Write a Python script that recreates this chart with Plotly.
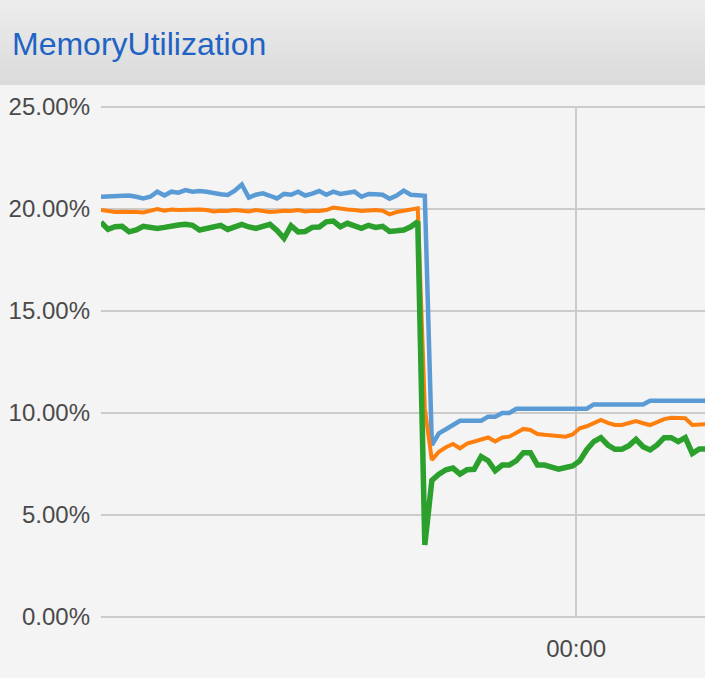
import datetime as dt
import plotly.graph_objects as go

# ---------------- data ----------------
start_time = dt.datetime(2024, 1, 1, 18, 22, 30)
step_minutes = 5

blue_vals = [
    20.60, 20.62, 20.62, 20.65, 20.66, 20.60, 20.52, 20.60, 20.85, 20.66,
    20.85, 20.80, 20.93, 20.85, 20.88, 20.85, 20.77, 20.72, 20.69, 20.90,
    21.20, 20.56, 20.70, 20.77, 20.65, 20.52, 20.74, 20.70, 20.85, 20.66,
    20.75, 20.88, 20.70, 20.85, 20.74, 20.80, 20.85, 20.60, 20.74, 20.72,
    20.70, 20.50, 20.66, 20.90, 20.70, 20.68, 20.65,
    8.43, 9.00, 9.20, 9.40, 9.62, 9.62, 9.62, 9.62, 9.82, 9.82,
    10.00, 10.00,
    10.21, 10.21, 10.21, 10.21, 10.21, 10.21, 10.21, 10.21, 10.21, 10.21, 10.21,
    10.42, 10.42, 10.42, 10.42, 10.42, 10.42, 10.42, 10.42,
    10.60, 10.60, 10.60, 10.60, 10.60, 10.60, 10.60, 10.60, 10.60,
]

orange_vals = [
    19.95, 19.88, 19.85, 19.87, 19.88, 19.85, 19.83, 19.90, 20.00, 19.92,
    19.98, 19.95, 19.97, 19.97, 19.98, 19.95, 19.88, 19.92, 19.90, 19.95,
    19.92, 19.88, 19.95, 19.90, 19.85, 19.88, 19.92, 19.90, 19.95, 19.88,
    19.92, 19.90, 19.95, 20.07, 20.00, 19.98, 19.95, 19.90, 19.93, 19.95,
    19.92, 19.74, 19.85, 19.92, 19.98, 20.03, 10.20,
    7.70, 8.10, 8.32, 8.48, 8.27, 8.50, 8.60, 8.70, 8.80, 8.60,
    8.80, 8.84, 9.05, 9.22, 9.17, 8.97, 8.93, 8.90, 8.86, 8.84,
    8.95, 9.25, 9.35, 9.50, 9.66, 9.52, 9.41, 9.41, 9.50, 9.60,
    9.50, 9.41, 9.55, 9.70, 9.77, 9.75, 9.74, 9.41, 9.45, 9.45,
]

green_vals = [
    19.35, 19.00, 19.13, 19.15, 18.88, 18.97, 19.15, 19.10, 19.05, 19.10,
    19.18, 19.22, 19.25, 19.20, 18.97, 19.05, 19.12, 19.20, 19.00, 19.12,
    19.25, 19.12, 19.05, 19.15, 19.25, 18.95, 18.56, 19.18, 18.88, 18.90,
    19.10, 19.12, 19.37, 19.41, 19.13, 19.30, 19.15, 19.05, 19.20, 19.10,
    19.15, 18.90, 18.93, 18.97, 19.13, 19.37, 3.53,
    6.70, 7.00, 7.22, 7.30, 7.00, 7.22, 7.24, 7.86, 7.66, 7.17,
    7.45, 7.45, 7.66, 8.05, 8.05, 7.45, 7.45, 7.35, 7.25, 7.33,
    7.40, 7.65, 8.20, 8.60, 8.79, 8.43, 8.22, 8.22, 8.40, 8.71,
    8.35, 8.19, 8.43, 8.79, 8.79, 8.60, 8.79, 8.02, 8.24, 8.24,
]

times = [start_time + dt.timedelta(minutes=step_minutes * i) for i in range(len(blue_vals))]

y_tick_vals = [0, 5, 10, 15, 20, 25]
y_tick_text = ["0.00%", "5.00%", "10.00%", "15.00%", "20.00%", "25.00%"]
x_tick_vals = [dt.datetime(2024, 1, 2, 0, 0)]
x_tick_text = ["00:00"]

title_text = "MemoryUtilization"

# ---------------- figure ----------------
W, H = 705, 678
M_L, M_R, M_T, M_B = 101, 0, 106, 60
plot_h = H - M_T - M_B
plot_w = W - M_L - M_R

fig = go.Figure()
series = [
    (blue_vals, "#5b9bd5", 4.5),
    (orange_vals, "#ff7f0e", 4),
    (green_vals, "#2ca02c", 5.5),
]
for vals, color, width in series:
    fig.add_trace(go.Scatter(
        x=times, y=vals, mode="lines",
        line=dict(color=color, width=width),
        showlegend=False,
    ))

# header band (gradient approximated by strips)
header_h = 85
n_strips = 17
top_rgb = (236, 236, 236)
bot_rgb = (219, 219, 219)
shapes = []
for k in range(n_strips):
    f = k / (n_strips - 1)
    c = tuple(round(top_rgb[j] + (bot_rgb[j] - top_rgb[j]) * f) for j in range(3))
    y0px = header_h * k / n_strips
    y1px = header_h * (k + 1) / n_strips
    shapes.append(dict(
        type="rect", xref="paper", yref="paper",
        x0=(0 - M_L) / plot_w - 0.01, x1=(W - M_L) / plot_w + 0.01,
        y0=1 + (M_T - y1px) / plot_h, y1=1 + (M_T - y0px) / plot_h + (0.01 if k == 0 else 0),
        fillcolor="rgb(%d,%d,%d)" % c, line=dict(width=0), layer="above",
    ))

x_start = times[0]
x_end = times[0] + dt.timedelta(minutes=step_minutes * 85.8)

y_pad = 0.05

fig.update_layout(
    width=W, height=H,
    margin=dict(l=M_L, r=M_R, t=M_T, b=M_B, pad=0),
    paper_bgcolor="#f4f4f4",
    plot_bgcolor="#f4f4f4",
    font=dict(family="Liberation Sans, Arial, sans-serif", color="#4a4a4a", size=24),
    shapes=shapes,
    title=dict(
        text=title_text,
        x=12 / W, xanchor="left", xref="container",
        y=1 - 44 / H, yanchor="middle", yref="container",
        font=dict(family="Liberation Sans, Arial, sans-serif", size=32, color="#1f63c4"),
    ),
    xaxis=dict(
        range=[x_start, x_end],
        tickvals=x_tick_vals, ticktext=x_tick_text,
        showgrid=True, gridcolor="#cbcbcb", gridwidth=1.5,
        zeroline=False, showline=False, ticks="",
        tickfont=dict(size=24, color="#4a4a4a"),
        ticklabelstandoff=14,
    ),
    yaxis=dict(
        range=[-y_pad, 25 + y_pad],
        tickvals=y_tick_vals, ticktext=y_tick_text,
        showgrid=True, gridcolor="#cbcbcb", gridwidth=1.5,
        zeroline=False, showline=False, ticks="",
        tickfont=dict(size=24, color="#4a4a4a"),
        ticklabelstandoff=10,
    ),
    hovermode=False,
)

fig.write_html(
    "out.html",
    config={"displayModeBar": False},
    post_script="document.body.style.margin='0';document.body.style.overflow='hidden';",
)
